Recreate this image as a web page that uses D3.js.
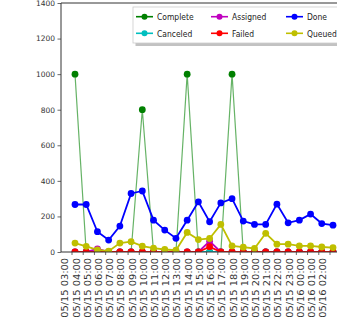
<!DOCTYPE html>
<html>
<head>
<meta charset="utf-8">
<script src="https://cdn.jsdelivr.net/npm/d3@7"></script>
<style>
  body { margin: 0; background: #fff; }
  text { font-family: "DejaVu Sans", sans-serif; }
</style>
</head>
<body>
<svg id="chart" width="337" height="324"></svg>
<script>
// Hourly job counts by status
const hours = [
  "05/15 03:00", "05/15 04:00", "05/15 05:00", "05/15 06:00", "05/15 07:00", "05/15 08:00",
  "05/15 09:00", "05/15 10:00", "05/15 11:00", "05/15 12:00", "05/15 13:00", "05/15 14:00",
  "05/15 15:00", "05/15 16:00", "05/15 17:00", "05/15 18:00", "05/15 19:00", "05/15 20:00",
  "05/15 21:00", "05/15 22:00", "05/15 23:00", "05/16 00:00", "05/16 01:00", "05/16 02:00"
];
const complete = [1000, 0, 0, 0, 0, 0, 800, 0, 0, 0, 1000, 0, 0, 0, 1000, 0, 0, 0, 0, 0, 0, 0, 0, 0];
const canceled = [0, 0, 0, 0, 0, 0, 0, 0, 0, 0, 0, 0, 0, 0, 0, 0, 0, 0, 0, 0, 0, 0, 0, 0];
const assigned = [0, 0, 18, 0, 0, 0, 0, 0, 0, 0, 0, 0, 60, 0, 0, 0, 0, 0, 0, 0, 0, 0, 0, 0];
const failed   = [0, 0, 0, 0, 0, 0, 0, 0, 0, 0, 0, 0, 30, 0, 0, 0, 0, 0, 0, 0, 0, 0, 0, 0];
const done     = [267, 267, 114, 67, 146, 329, 343, 179, 123, 77, 179, 282, 170, 276, 300, 174, 155, 155, 269, 164, 179, 213, 160, 151];
const queued   = [50, 32, 12, 5, 50, 58, 33, 22, 14, 10, 110, 70, 76, 155, 34, 27, 20, 105, 44, 44, 34, 34, 28, 25];
const yTicks = [0, 200, 400, 600, 800, 1000, 1200, 1400];

const seriesNames  = ["Complete", "Canceled", "Assigned", "Failed", "Done", "Queued"];
const seriesValues = [complete, canceled, assigned, failed, done, queued];
const seriesColors = ["#008000", "#00bfbf", "#bf00bf", "#ff0000", "#0000ff", "#bfbf00"];

const svg = d3.select("#chart");
const plot = { left: 61, right: 350, top: 3, bottom: 252 };

const x = d3.scalePoint().domain(hours).range([75, 333]);
const y = d3.scaleLinear().domain([0, 1400]).range([plot.bottom, plot.top]);

svg.append("defs").append("clipPath").attr("id", "plotClip")
  .append("rect")
  .attr("x", plot.left).attr("y", plot.top)
  .attr("width", plot.right - plot.left).attr("height", plot.bottom - plot.top);

// Y axis
const yAxis = svg.append("g")
  .attr("transform", `translate(${plot.left},0)`)
  .call(d3.axisLeft(y).tickValues(yTicks).tickFormat(d3.format("d")).tickSize(3.5).tickPadding(2.5));
yAxis.select(".domain").remove();
yAxis.selectAll(".tick line").attr("stroke", "#444").attr("stroke-width", 0.8);
yAxis.selectAll(".tick text").attr("fill", "#333").style("font-size", "7.5px");

// X axis
const xAxis = svg.append("g")
  .attr("transform", `translate(-3.5,${plot.bottom})`)
  .call(d3.axisBottom(x).tickSize(3).tickSizeOuter(0));
xAxis.select(".domain").remove();
xAxis.selectAll(".tick line").attr("stroke", "#444").attr("stroke-width", 0.8);
xAxis.selectAll(".tick text")
  .attr("x", 0).attr("y", 0).attr("dy", "0.35em")
  .attr("text-anchor", "end")
  .attr("fill", "#333")
  .style("font-size", "8px")
  .attr("transform", "translate(-6.5,6) rotate(-90) scale(1.23,1)");

// Series lines and markers
const lineGen = d3.line().x((d, i) => x(hours[i])).y(d => y(d));
const marks = svg.append("g").attr("clip-path", "url(#plotClip)");
seriesValues.forEach((vals, s) => {
  const g = marks.append("g");
  g.append("path")
    .datum(vals)
    .attr("d", lineGen)
    .attr("fill", "none")
    .attr("stroke", seriesColors[s])
    .attr("stroke-width", s === 0 ? 1.2 : 1.8)
    .attr("stroke-opacity", s === 0 ? 0.6 : 1);
  g.selectAll("circle").data(vals).join("circle")
    .attr("cx", (d, i) => x(hours[i]))
    .attr("cy", d => y(d))
    .attr("r", 3.4)
    .attr("fill", seriesColors[s]);
});

// Spines
svg.append("line").attr("x1", plot.left).attr("x2", plot.left).attr("y1", plot.top).attr("y2", plot.bottom)
  .attr("stroke", "#333").attr("stroke-width", 1);
svg.append("line").attr("x1", plot.left).attr("x2", plot.right).attr("y1", plot.top).attr("y2", plot.top)
  .attr("stroke", "#333").attr("stroke-width", 1);
svg.append("line").attr("x1", plot.left).attr("x2", plot.right).attr("y1", plot.bottom).attr("y2", plot.bottom)
  .attr("stroke", "#333").attr("stroke-width", 1);

// Legend (3 columns, filled column by column)
const legend = svg.append("g").attr("transform", "translate(133,7)");
legend.append("rect").attr("x", 2.5).attr("y", 3).attr("width", 230).attr("height", 36)
  .attr("fill", "#999").attr("opacity", 0.6);
legend.append("rect").attr("x", 0).attr("y", 0).attr("width", 230).attr("height", 36)
  .attr("fill", "#fff").attr("stroke", "#ccc").attr("stroke-width", 0.8);
seriesNames.forEach((name, s) => {
  const col = Math.floor(s / 2), row = s % 2;
  const item = legend.append("g").attr("transform", `translate(${3 + col * 75},${9.7 + row * 16.6})`);
  item.append("line").attr("x1", 0).attr("x2", 17).attr("y1", 0).attr("y2", 0)
    .attr("stroke", seriesColors[s]).attr("stroke-width", 1.6);
  item.append("circle").attr("cx", 8.5).attr("cy", 0).attr("r", 3).attr("fill", seriesColors[s]);
  item.append("text")
    .attr("transform", "translate(21,0) scale(0.8,1)")
    .attr("dy", "0.35em")
    .attr("fill", "#222")
    .style("font-size", "9.5px")
    .text(name);
});
</script>
</body>
</html>
